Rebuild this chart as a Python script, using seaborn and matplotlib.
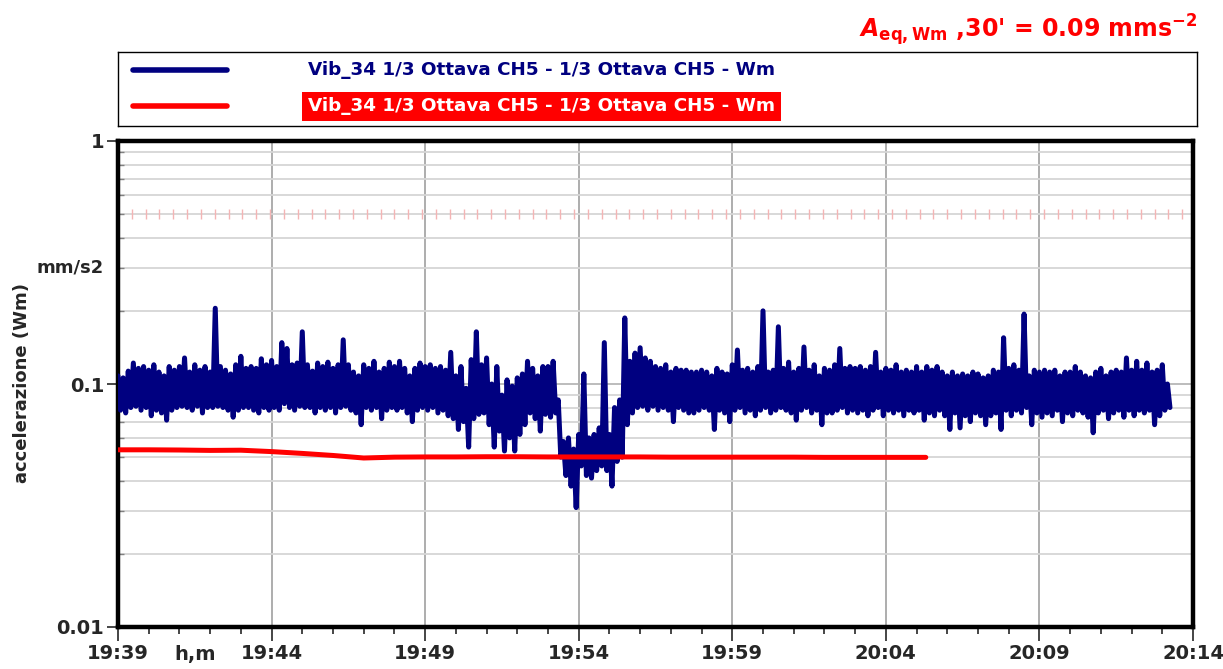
import numpy as np
import pandas as pd
import matplotlib
matplotlib.use("Agg")
import matplotlib.pyplot as plt
import seaborn as sns
from matplotlib.ticker import FixedLocator, LogLocator, NullFormatter

# blue trace: 1/3 octave Wm weighted acceleration, read as upper / lower
# value within each 10 s slot starting at 19:39:00 (hi at t, lo at t+5 s)
step_s = 10
vib_hi = [
    0.108, 0.106, 0.113, 0.122, 0.116, 0.118, 0.114, 0.120, 0.112, 0.108,
    0.118, 0.114, 0.118, 0.128, 0.112, 0.120, 0.114, 0.118, 0.112, 0.205,
    0.118, 0.114, 0.110, 0.120, 0.130, 0.116, 0.118, 0.116, 0.127, 0.120,
    0.125, 0.118, 0.148, 0.140, 0.120, 0.122, 0.164, 0.120, 0.113, 0.122,
    0.118, 0.123, 0.116, 0.120, 0.152, 0.120, 0.112, 0.108, 0.120, 0.116,
    0.124, 0.112, 0.116, 0.123, 0.118, 0.124, 0.116, 0.108, 0.116, 0.122,
    0.118, 0.120, 0.116, 0.118, 0.114, 0.135, 0.108, 0.118, 0.096, 0.126,
    0.164, 0.120, 0.128, 0.100, 0.118, 0.090, 0.104, 0.098, 0.106, 0.110,
    0.124, 0.116, 0.108, 0.118, 0.118, 0.124, 0.086, 0.058, 0.060, 0.054,
    0.062, 0.110, 0.060, 0.062, 0.066, 0.148, 0.062, 0.080, 0.086, 0.187,
    0.124, 0.134, 0.141, 0.128, 0.124, 0.118, 0.116, 0.120, 0.112, 0.116,
    0.114, 0.114, 0.112, 0.112, 0.114, 0.112, 0.108, 0.116, 0.112, 0.110,
    0.120, 0.138, 0.114, 0.116, 0.112, 0.118, 0.200, 0.112, 0.114, 0.172,
    0.116, 0.123, 0.112, 0.116, 0.142, 0.114, 0.120, 0.108, 0.116, 0.114,
    0.120, 0.140, 0.116, 0.118, 0.116, 0.118, 0.114, 0.118, 0.135, 0.112,
    0.116, 0.114, 0.120, 0.112, 0.114, 0.112, 0.118, 0.112, 0.118, 0.114,
    0.118, 0.112, 0.108, 0.112, 0.108, 0.110, 0.108, 0.112, 0.110, 0.106,
    0.108, 0.114, 0.112, 0.155, 0.116, 0.120, 0.114, 0.194, 0.108, 0.114,
    0.112, 0.114, 0.112, 0.114, 0.108, 0.112, 0.112, 0.118, 0.112, 0.108,
    0.106, 0.112, 0.116, 0.108, 0.112, 0.114, 0.112, 0.128, 0.114, 0.124,
    0.114, 0.122, 0.112, 0.114, 0.120, 0.100,
]
vib_lo = [
    0.078, 0.076, 0.080, 0.081, 0.078, 0.080, 0.074, 0.078, 0.076, 0.071,
    0.078, 0.080, 0.081, 0.080, 0.078, 0.081, 0.076, 0.080, 0.080, 0.081,
    0.080, 0.078, 0.073, 0.078, 0.080, 0.080, 0.078, 0.076, 0.080, 0.078,
    0.080, 0.078, 0.083, 0.080, 0.078, 0.081, 0.080, 0.080, 0.076, 0.080,
    0.078, 0.080, 0.076, 0.080, 0.081, 0.078, 0.076, 0.068, 0.080, 0.078,
    0.080, 0.072, 0.078, 0.080, 0.078, 0.080, 0.076, 0.070, 0.078, 0.080,
    0.078, 0.080, 0.076, 0.078, 0.074, 0.072, 0.065, 0.070, 0.055, 0.072,
    0.075, 0.076, 0.068, 0.055, 0.064, 0.053, 0.060, 0.053, 0.062, 0.068,
    0.076, 0.072, 0.064, 0.075, 0.073, 0.076, 0.050, 0.042, 0.038, 0.031,
    0.046, 0.042, 0.041, 0.044, 0.046, 0.044, 0.038, 0.048, 0.050, 0.068,
    0.076, 0.080, 0.081, 0.078, 0.081, 0.078, 0.080, 0.078, 0.070, 0.080,
    0.078, 0.076, 0.076, 0.078, 0.080, 0.078, 0.065, 0.078, 0.076, 0.070,
    0.078, 0.080, 0.076, 0.078, 0.074, 0.078, 0.080, 0.076, 0.078, 0.080,
    0.078, 0.076, 0.071, 0.078, 0.080, 0.076, 0.078, 0.068, 0.076, 0.076,
    0.078, 0.080, 0.076, 0.078, 0.076, 0.078, 0.074, 0.078, 0.080, 0.074,
    0.078, 0.076, 0.078, 0.074, 0.078, 0.076, 0.078, 0.071, 0.076, 0.074,
    0.078, 0.074, 0.065, 0.076, 0.066, 0.074, 0.070, 0.076, 0.074, 0.068,
    0.074, 0.076, 0.065, 0.078, 0.074, 0.078, 0.076, 0.080, 0.068, 0.076,
    0.073, 0.076, 0.074, 0.078, 0.070, 0.076, 0.074, 0.078, 0.076, 0.073,
    0.063, 0.076, 0.078, 0.072, 0.076, 0.078, 0.073, 0.078, 0.074, 0.078,
    0.076, 0.078, 0.068, 0.074, 0.078, 0.080,
]

# red trace: running equivalent level, one value per minute
aeq_min = [0, 1, 2, 3, 4, 5, 6, 7, 8, 9, 10, 11, 12, 13, 14, 15, 16, 17, 18,
           19, 20, 21, 22, 23, 24, 25, 26, 26.3]
aeq_run = [0.0536, 0.0536, 0.0535, 0.0533, 0.0534, 0.0527, 0.0518, 0.0508,
           0.0496, 0.0500, 0.0501, 0.0501, 0.0502, 0.0502, 0.0501, 0.0501,
           0.0501, 0.0501, 0.0500, 0.0500, 0.0500, 0.0500, 0.0500, 0.0499,
           0.0499, 0.0499, 0.0499, 0.0499]

threshold = 0.5
x_ticks = [0, 5, 10, 15, 20, 25, 30, 35]
x_labels = ["19:39", "19:44", "19:49", "19:54", "19:59", "20:04", "20:09", "20:14"]
y_ticks = [0.01, 0.1, 1]
y_labels = ["0.01", "0.1", "1"]
legend_txt = "Vib_34 1/3 Ottava CH5 - 1/3 Ottava CH5 - Wm"

navy = "#000080"
red = "#ff0000"

sns.set_style("white")
plt.rcParams["font.family"] = ["DejaVu Sans"]
plt.rcParams["font.weight"] = "bold"
plt.rcParams["mathtext.fontset"] = "custom"
plt.rcParams["mathtext.it"] = "DejaVu Sans:italic:bold"
plt.rcParams["mathtext.rm"] = "DejaVu Sans:bold"
plt.rcParams["mathtext.bf"] = "DejaVu Sans:bold"

t_vals, a_vals = [], []
for i, (h, l) in enumerate(zip(vib_hi, vib_lo)):
    t_vals += [i * step_s / 60, (i * step_s + step_s / 2) / 60]
    a_vals += [h, l]
vib = pd.DataFrame({"t": t_vals, "acc": a_vals})
aeq = pd.DataFrame({"t": aeq_min, "acc": aeq_run})

fig = plt.figure(figsize=(12.23, 6.69), dpi=100)
ax = fig.add_axes([118 / 1223, 1 - 627 / 669, 1075 / 1223, 486 / 669])

ax.set_yscale("log")
ax.set_xlim(0, 35)
ax.set_ylim(0.01, 1)

# grid
ax.yaxis.set_minor_locator(LogLocator(base=10, subs=np.arange(2, 10)))
ax.yaxis.set_minor_formatter(NullFormatter())
ax.grid(which="minor", axis="y", color="#d6d6d6", lw=1.3)
ax.grid(which="major", axis="y", color="#b0b0b0", lw=1.2)
ax.grid(which="major", axis="x", color="#a0a0a0", lw=1.2)

# threshold marks
thr_x = np.arange(0.45, 35, 0.45)
ax.plot(thr_x, [threshold] * len(thr_x), ls="none", marker="|", ms=7, mew=1,
        color="#f4b4b4", zorder=1)

sns.lineplot(data=vib, x="t", y="acc", ax=ax, color=navy, lw=3.6,
             estimator=None, zorder=3)
sns.lineplot(data=aeq, x="t", y="acc", ax=ax, color=red, lw=3.6,
             estimator=None, zorder=4)

ax.set_xlabel("")
ax.set_ylabel("")

ax.xaxis.set_major_locator(FixedLocator(x_ticks))
ax.xaxis.set_minor_locator(FixedLocator(range(36)))
ax.set_xticklabels(x_labels, fontsize=14, fontweight="bold")
ax.tick_params(axis="x", which="major", direction="out", length=10, width=1.2,
               pad=2, bottom=True)
ax.tick_params(axis="x", which="minor", direction="out", length=5, width=1.2,
               bottom=True)

ax.yaxis.set_major_locator(FixedLocator(y_ticks))
ax.set_yticklabels(y_labels, fontsize=14, fontweight="bold")
ax.tick_params(axis="y", which="major", direction="out", length=8, width=1.2,
               pad=2, left=True)
ax.tick_params(axis="y", which="minor", direction="in", length=4, width=1,
               left=True, color="#808080")

for s in ax.spines.values():
    s.set_color("black")
    s.set_linewidth(3.2)

ax.text(0.072, -0.056, "h,m", transform=ax.transAxes, ha="center", va="center",
        fontsize=14, fontweight="bold")

fig.text(22 / 1223, 1 - 383 / 669, "accelerazione (Wm)", rotation=90,
         ha="center", va="center", fontsize=13, fontweight="bold")
fig.text(70 / 1223, 1 - 268 / 669, "mm/s2", ha="center", va="center",
         fontsize=13, fontweight="bold")

# legend box
lg = fig.add_axes([118 / 1223, 1 - 126 / 669, 1079 / 1223, 74 / 669])
lg.set_xlim(0, 1)
lg.set_ylim(0, 1)
lg.set_xticks([])
lg.set_yticks([])
for s in lg.spines.values():
    s.set_linewidth(1.0)
    s.set_color("black")
lg.plot([0.014, 0.101], [0.757, 0.757], color=navy, lw=4.0)
lg.plot([0.014, 0.101], [0.27, 0.27], color=red, lw=4.0)
lg.text(0.176, 0.757, legend_txt, color=navy, fontsize=13.2, fontweight="bold",
        va="center", ha="left")
lg.text(0.176, 0.27, legend_txt, color="white", fontsize=13.2, fontweight="bold",
        va="center", ha="left",
        bbox=dict(boxstyle="square,pad=0.3", facecolor=red, edgecolor="none"))

fig.text(1197 / 1223, 1 - 30 / 669,
         r"$A_{\mathrm{eq,Wm}}$ ,30' = 0.09 mms$^{-2}$",
         color=red, ha="right", va="center", fontsize=17, fontweight="bold")

fig.savefig("out.png", dpi=100)
